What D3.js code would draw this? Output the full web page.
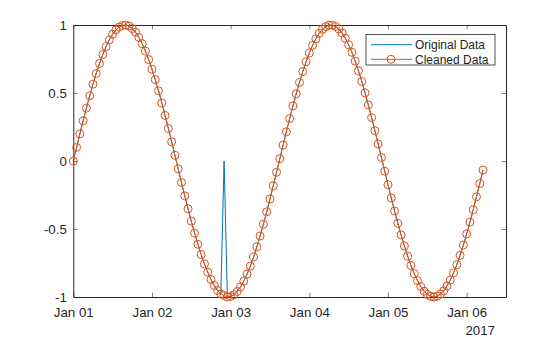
<!DOCTYPE html>
<html>
<head>
<meta charset="utf-8">
<script src="https://cdn.jsdelivr.net/npm/d3@7"></script>
<style>
  html, body { margin: 0; padding: 0; background: #ffffff; }
  svg { display: block; font-family: "Liberation Sans", Arial, Helvetica, sans-serif; }
</style>
</head>
<body>
<svg id="chart" width="560" height="337"></svg>
<script>
// ---- data ----
const startTime = "2017-01-01T00:00:00"; // hourly samples
const originalData = [
 0.000, 0.100, 0.199, 0.296, 0.389, 0.479, 0.565, 0.644, 0.717, 0.783,
 0.841, 0.891, 0.932, 0.964, 0.985, 0.997, 1.000, 0.992, 0.974, 0.946,
 0.909, 0.863, 0.808, 0.746, 0.675, 0.598, 0.516, 0.427, 0.335, 0.239,
 0.141, 0.042, -0.058, -0.158, -0.256, -0.351, -0.443, -0.530, -0.612, -0.688,
 -0.757, -0.818, -0.872, -0.916, -0.952, -0.978, 0.000, -1.000, -0.996, -0.983,
 -0.959, -0.926, -0.884, -0.832, -0.773, -0.706, -0.631, -0.551, -0.465, -0.374,
 -0.279, -0.182, -0.083, 0.017, 0.117, 0.215, 0.312, 0.405, 0.494, 0.578,
 0.657, 0.729, 0.794, 0.850, 0.899, 0.938, 0.968, 0.988, 0.999, 0.999,
 0.989, 0.970, 0.941, 0.902, 0.855, 0.799, 0.734, 0.663, 0.585, 0.501,
 0.412, 0.319, 0.223, 0.125, 0.025, -0.075, -0.174, -0.272, -0.367, -0.458,
 -0.544, -0.625, -0.700, -0.768, -0.828, -0.880, -0.923, -0.957, -0.981, -0.995,
 -1.000, -0.994, -0.979, -0.954, -0.919, -0.876, -0.823, -0.762, -0.694, -0.618,
 -0.537, -0.450, -0.358, -0.263, -0.166, -0.066
];
const cleanedData = [
 0.000, 0.100, 0.199, 0.296, 0.389, 0.479, 0.565, 0.644, 0.717, 0.783,
 0.841, 0.891, 0.932, 0.964, 0.985, 0.997, 1.000, 0.992, 0.974, 0.946,
 0.909, 0.863, 0.808, 0.746, 0.675, 0.598, 0.516, 0.427, 0.335, 0.239,
 0.141, 0.042, -0.058, -0.158, -0.256, -0.351, -0.443, -0.530, -0.612, -0.688,
 -0.757, -0.818, -0.872, -0.916, -0.952, -0.978, -0.989, -1.000, -0.996, -0.983,
 -0.959, -0.926, -0.884, -0.832, -0.773, -0.706, -0.631, -0.551, -0.465, -0.374,
 -0.279, -0.182, -0.083, 0.017, 0.117, 0.215, 0.312, 0.405, 0.494, 0.578,
 0.657, 0.729, 0.794, 0.850, 0.899, 0.938, 0.968, 0.988, 0.999, 0.999,
 0.989, 0.970, 0.941, 0.902, 0.855, 0.799, 0.734, 0.663, 0.585, 0.501,
 0.412, 0.319, 0.223, 0.125, 0.025, -0.075, -0.174, -0.272, -0.367, -0.458,
 -0.544, -0.625, -0.700, -0.768, -0.828, -0.880, -0.923, -0.957, -0.981, -0.995,
 -1.000, -0.994, -0.979, -0.954, -0.919, -0.876, -0.823, -0.762, -0.694, -0.618,
 -0.537, -0.450, -0.358, -0.263, -0.166, -0.066
];
const xDomain = ["2017-01-01T00:00:00", "2017-01-06T12:00:00"];
const yDomain = [-1, 1];
const yTicks = [-1, -0.5, 0, 0.5, 1];
const yTickLabels = ["-1", "-0.5", "0", "0.5", "1"];
const xTickLabelFormat = "%b %d";
const yearLabel = "2017";
const seriesNames = ["Original Data", "Cleaned Data"];

// ---- layout ----
const svg = d3.select("#chart");
const L = 73.3, R = 506, T = 25, B = 297;
const axisColor = "#262626";
const fs = 13.3;
const tickLen = 4.3;

const parse = s => new Date(s);
const t0 = parse(startTime);
const times = originalData.map((_, i) => d3.timeHour.offset(t0, i));

const x = d3.scaleTime().domain(xDomain.map(parse)).range([L, R]);
const y = d3.scaleLinear().domain(yDomain).range([B, T]);

// axes
const xTicks = d3.timeDay.range(parse(xDomain[0]), parse(xDomain[1]));
const gBottom = svg.append("g").attr("transform", `translate(0,${B})`)
  .call(d3.axisBottom(x).tickValues(xTicks).tickFormat(d3.timeFormat(xTickLabelFormat))
        .tickSizeInner(-tickLen).tickSizeOuter(0).tickPadding(10.3));
const gTop = svg.append("g").attr("transform", `translate(0,${T})`)
  .call(d3.axisTop(x).tickValues(xTicks).tickFormat("").tickSizeInner(-tickLen).tickSizeOuter(0));
const gLeft = svg.append("g").attr("transform", `translate(${L},0)`)
  .call(d3.axisLeft(y).tickValues(yTicks).tickFormat((d, i) => yTickLabels[i])
        .tickSizeInner(-tickLen).tickSizeOuter(0).tickPadding(6.5));
const gRight = svg.append("g").attr("transform", `translate(${R},0)`)
  .call(d3.axisRight(y).tickValues(yTicks).tickFormat("").tickSizeInner(-tickLen).tickSizeOuter(0));

[gBottom, gTop, gLeft, gRight].forEach(g => {
  g.selectAll("path.domain").attr("stroke", axisColor).attr("stroke-width", 1);
  g.selectAll(".tick line").attr("stroke", axisColor).attr("stroke-width", 0.6);
  g.selectAll(".tick text").attr("fill", axisColor).style("font-size", fs + "px")
    .style("font-family", '"Liberation Sans", Arial, sans-serif');
});

svg.append("text").attr("x", 495).attr("y", 335).attr("text-anchor", "end")
  .attr("fill", axisColor).style("font-size", fs + "px").text(yearLabel);

// series
const line = d3.line().x((d, i) => x(times[i])).y(d => y(d));
const plot = svg.append("g");
plot.append("path").datum(originalData).attr("d", line)
  .attr("fill", "none").attr("stroke", "#0072BD").attr("stroke-width", 1);
plot.append("path").datum(cleanedData).attr("d", line)
  .attr("fill", "none").attr("stroke", "#D95319").attr("stroke-width", 1);
plot.selectAll("circle.m").data(cleanedData).join("circle").attr("class", "m")
  .attr("cx", (d, i) => x(times[i])).attr("cy", d => y(d)).attr("r", 4)
  .attr("fill", "none").attr("stroke", "#D95319").attr("stroke-width", 1);

// legend
const lg = svg.append("g");
lg.append("rect").attr("x", 366).attr("y", 34.5).attr("width", 129).attr("height", 30.5)
  .attr("fill", "#ffffff").attr("stroke", axisColor).attr("stroke-width", 0.8);
const ly = [44.7, 59.3];
lg.append("line").attr("x1", 371).attr("x2", 412).attr("y1", ly[0]).attr("y2", ly[0])
  .attr("stroke", "#0072BD").attr("stroke-width", 1);
lg.append("line").attr("x1", 371).attr("x2", 412).attr("y1", ly[1]).attr("y2", ly[1])
  .attr("stroke", "#D95319").attr("stroke-width", 1);
lg.append("circle").attr("cx", 391).attr("cy", ly[1]).attr("r", 4)
  .attr("fill", "none").attr("stroke", "#D95319").attr("stroke-width", 1);
seriesNames.forEach((n, i) => {
  lg.append("text").attr("x", 415).attr("y", ly[i]).attr("dy", "0.35em")
    .attr("fill", axisColor).style("font-size", "12px").text(n);
});
</script>
</body>
</html>
